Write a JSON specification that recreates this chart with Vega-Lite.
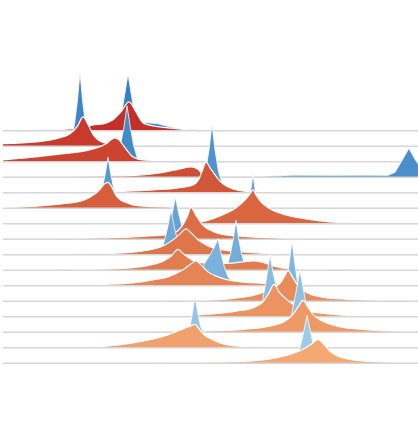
{
"$schema": "https://vega.github.io/schema/vega-lite/v6.json",
"autosize": {"type": "pad"},
"padding": {"left": 0, "top": 69.4, "right": 0, "bottom": 0},
"background": "white",
"bounds": "flush",
"spacing": 0,
"data": {"values": [
{"p":1,"row":1,"g":"r","x":0,"d":0.5},{"p":1,"row":1,"g":"r","x":30,"d":0.8},{"p":1,"row":1,"g":"r","x":60,"d":1.5},{"p":1,"row":1,"g":"r","x":80,"d":3},{"p":1,"row":1,"g":"r","x":90,"d":6},{"p":1,"row":1,"g":"r","x":100,"d":7},{"p":1,"row":1,"g":"r","x":110,"d":11},{"p":1,"row":1,"g":"r","x":118,"d":19},{"p":1,"row":1,"g":"r","x":126,"d":29},{"p":1,"row":1,"g":"r","x":133,"d":19},{"p":1,"row":1,"g":"r","x":140,"d":8},{"p":1,"row":1,"g":"r","x":150,"d":5},{"p":1,"row":1,"g":"r","x":165,"d":3},{"p":1,"row":1,"g":"r","x":180,"d":1.5},{"p":1,"row":1,"g":"r","x":200,"d":0.5},{"p":1,"row":1,"g":"r","x":230,"d":0},
{"p":1,"row":1,"g":"b","x":112,"d":0},{"p":1,"row":1,"g":"b","x":115,"d":2},{"p":1,"row":1,"g":"b","x":118.5,"d":17},{"p":1,"row":1,"g":"b","x":121.5,"d":35},{"p":1,"row":1,"g":"b","x":125,"d":57},{"p":1,"row":1,"g":"b","x":128.5,"d":35},{"p":1,"row":1,"g":"b","x":131,"d":20},{"p":1,"row":1,"g":"b","x":134,"d":11},{"p":1,"row":1,"g":"b","x":140,"d":8.5},{"p":1,"row":1,"g":"b","x":155,"d":7},{"p":1,"row":1,"g":"b","x":167,"d":4},{"p":1,"row":1,"g":"b","x":180,"d":1},{"p":1,"row":1,"g":"b","x":200,"d":0},
{"p":1,"row":2,"g":"r","x":0,"d":2.8},{"p":1,"row":2,"g":"r","x":33,"d":4.5},{"p":1,"row":2,"g":"r","x":50,"d":7},{"p":1,"row":2,"g":"r","x":67,"d":12.5},{"p":1,"row":2,"g":"r","x":75,"d":21},{"p":1,"row":2,"g":"r","x":80,"d":29.5},{"p":1,"row":2,"g":"r","x":85,"d":22},{"p":1,"row":2,"g":"r","x":90,"d":12},{"p":1,"row":2,"g":"r","x":100,"d":4},{"p":1,"row":2,"g":"r","x":110,"d":2},{"p":1,"row":2,"g":"r","x":140,"d":0.8},{"p":1,"row":2,"g":"r","x":180,"d":0.4},{"p":1,"row":2,"g":"r","x":210,"d":0},
{"p":1,"row":2,"g":"b","x":64,"d":0},{"p":1,"row":2,"g":"b","x":67.5,"d":3},{"p":1,"row":2,"g":"b","x":71.5,"d":22},{"p":1,"row":2,"g":"b","x":74.5,"d":46},{"p":1,"row":2,"g":"b","x":77,"d":74.5},{"p":1,"row":2,"g":"b","x":79.5,"d":46},{"p":1,"row":2,"g":"b","x":82.5,"d":22},{"p":1,"row":2,"g":"b","x":86.5,"d":3},{"p":1,"row":2,"g":"b","x":90,"d":0},
{"p":2,"row":3,"g":"r","x":0,"d":2},{"p":2,"row":3,"g":"r","x":50,"d":7},{"p":2,"row":3,"g":"r","x":90,"d":13},{"p":2,"row":3,"g":"r","x":103,"d":18},{"p":2,"row":3,"g":"r","x":108,"d":22},{"p":2,"row":3,"g":"r","x":112,"d":24},{"p":2,"row":3,"g":"r","x":116,"d":22},{"p":2,"row":3,"g":"r","x":120,"d":17},{"p":2,"row":3,"g":"r","x":130,"d":5},{"p":2,"row":3,"g":"r","x":140,"d":2},{"p":2,"row":3,"g":"r","x":160,"d":1.2},{"p":2,"row":3,"g":"r","x":190,"d":0.6},{"p":2,"row":3,"g":"r","x":220,"d":0},
{"p":2,"row":3,"g":"b","x":110,"d":0},{"p":2,"row":3,"g":"b","x":113,"d":2},{"p":2,"row":3,"g":"b","x":117.5,"d":17},{"p":2,"row":3,"g":"b","x":121,"d":35},{"p":2,"row":3,"g":"b","x":124,"d":56},{"p":2,"row":3,"g":"b","x":127.3,"d":35},{"p":2,"row":3,"g":"b","x":130.5,"d":17},{"p":2,"row":3,"g":"b","x":134.5,"d":3},{"p":2,"row":3,"g":"b","x":139,"d":0},
{"p":2,"row":4,"g":"r","x":0,"d":1},{"p":2,"row":4,"g":"r","x":60,"d":1},{"p":2,"row":4,"g":"r","x":120,"d":1.5},{"p":2,"row":4,"g":"r","x":145,"d":3},{"p":2,"row":4,"g":"r","x":160,"d":5},{"p":2,"row":4,"g":"r","x":175,"d":8},{"p":2,"row":4,"g":"r","x":188,"d":10.5},{"p":2,"row":4,"g":"r","x":195,"d":8},{"p":2,"row":4,"g":"r","x":200,"d":3},{"p":2,"row":4,"g":"r","x":210,"d":1},{"p":2,"row":4,"g":"r","x":240,"d":0.5},{"p":2,"row":4,"g":"r","x":280,"d":0},
{"p":2,"row":4,"g":"b","x":220,"d":0},{"p":2,"row":4,"g":"b","x":260,"d":1},{"p":2,"row":4,"g":"b","x":290,"d":2.2},{"p":2,"row":4,"g":"b","x":330,"d":2},{"p":2,"row":4,"g":"b","x":360,"d":2.2},{"p":2,"row":4,"g":"b","x":385,"d":2},{"p":2,"row":4,"g":"b","x":392,"d":5},{"p":2,"row":4,"g":"b","x":398,"d":15},{"p":2,"row":4,"g":"b","x":406,"d":29},{"p":2,"row":4,"g":"b","x":412,"d":18},{"p":2,"row":4,"g":"b","x":418,"d":9},
{"p":3,"row":5,"g":"r","x":80,"d":0},{"p":3,"row":5,"g":"r","x":100,"d":0.5},{"p":3,"row":5,"g":"r","x":120,"d":1.5},{"p":3,"row":5,"g":"r","x":150,"d":3},{"p":3,"row":5,"g":"r","x":175,"d":5},{"p":3,"row":5,"g":"r","x":190,"d":8},{"p":3,"row":5,"g":"r","x":196,"d":14},{"p":3,"row":5,"g":"r","x":200,"d":24},{"p":3,"row":5,"g":"r","x":203,"d":31},{"p":3,"row":5,"g":"r","x":207,"d":25},{"p":3,"row":5,"g":"r","x":210,"d":21},{"p":3,"row":5,"g":"r","x":215,"d":14},{"p":3,"row":5,"g":"r","x":220,"d":9},{"p":3,"row":5,"g":"r","x":230,"d":4},{"p":3,"row":5,"g":"r","x":243,"d":1.5},{"p":3,"row":5,"g":"r","x":270,"d":0.5},{"p":3,"row":5,"g":"r","x":300,"d":0},
{"p":3,"row":5,"g":"b","x":194,"d":0},{"p":3,"row":5,"g":"b","x":198,"d":2},{"p":3,"row":5,"g":"b","x":202.5,"d":21},{"p":3,"row":5,"g":"b","x":206,"d":43},{"p":3,"row":5,"g":"b","x":209,"d":69},{"p":3,"row":5,"g":"b","x":212,"d":43},{"p":3,"row":5,"g":"b","x":215.5,"d":21},{"p":3,"row":5,"g":"b","x":219,"d":10},{"p":3,"row":5,"g":"b","x":223,"d":6},{"p":3,"row":5,"g":"b","x":228,"d":2},{"p":3,"row":5,"g":"b","x":240,"d":0},
{"p":3,"row":6,"g":"r","x":0,"d":0.7},{"p":3,"row":6,"g":"r","x":30,"d":2},{"p":3,"row":6,"g":"r","x":60,"d":4.7},{"p":3,"row":6,"g":"r","x":80,"d":8},{"p":3,"row":6,"g":"r","x":90,"d":13},{"p":3,"row":6,"g":"r","x":97,"d":19},{"p":3,"row":6,"g":"r","x":101,"d":24},{"p":3,"row":6,"g":"r","x":105,"d":26},{"p":3,"row":6,"g":"r","x":109,"d":21},{"p":3,"row":6,"g":"r","x":113,"d":13},{"p":3,"row":6,"g":"r","x":118,"d":8},{"p":3,"row":6,"g":"r","x":123,"d":6},{"p":3,"row":6,"g":"r","x":130,"d":3.4},{"p":3,"row":6,"g":"r","x":145,"d":2},{"p":3,"row":6,"g":"r","x":167,"d":1.2},{"p":3,"row":6,"g":"r","x":200,"d":0.5},{"p":3,"row":6,"g":"r","x":240,"d":0},
{"p":3,"row":6,"g":"b","x":90,"d":0},{"p":3,"row":6,"g":"b","x":94,"d":2},{"p":3,"row":6,"g":"b","x":98.5,"d":16},{"p":3,"row":6,"g":"b","x":101.8,"d":32},{"p":3,"row":6,"g":"b","x":105,"d":51},{"p":3,"row":6,"g":"b","x":108.2,"d":32},{"p":3,"row":6,"g":"b","x":111.5,"d":16},{"p":3,"row":6,"g":"b","x":116,"d":4},{"p":3,"row":6,"g":"b","x":121,"d":1.5},{"p":3,"row":6,"g":"b","x":130,"d":0},
{"p":4,"row":7,"g":"r","x":140,"d":0},{"p":4,"row":7,"g":"r","x":160,"d":0.7},{"p":4,"row":7,"g":"r","x":180,"d":1.2},{"p":4,"row":7,"g":"r","x":200,"d":2.5},{"p":4,"row":7,"g":"r","x":217,"d":8},{"p":4,"row":7,"g":"r","x":233,"d":16},{"p":4,"row":7,"g":"r","x":242,"d":24},{"p":4,"row":7,"g":"r","x":247,"d":30},{"p":4,"row":7,"g":"r","x":250,"d":34},{"p":4,"row":7,"g":"r","x":253,"d":29},{"p":4,"row":7,"g":"r","x":258,"d":22},{"p":4,"row":7,"g":"r","x":267,"d":15},{"p":4,"row":7,"g":"r","x":283,"d":9},{"p":4,"row":7,"g":"r","x":300,"d":5.5},{"p":4,"row":7,"g":"r","x":327,"d":2},{"p":4,"row":7,"g":"r","x":350,"d":0.7},{"p":4,"row":7,"g":"r","x":380,"d":0},
{"p":4,"row":7,"g":"b","x":238,"d":0},{"p":4,"row":7,"g":"b","x":241.5,"d":2},{"p":4,"row":7,"g":"b","x":244.8,"d":15},{"p":4,"row":7,"g":"b","x":247.5,"d":31},{"p":4,"row":7,"g":"b","x":250,"d":50},{"p":4,"row":7,"g":"b","x":252.5,"d":31},{"p":4,"row":7,"g":"b","x":255.2,"d":15},{"p":4,"row":7,"g":"b","x":259,"d":4},{"p":4,"row":7,"g":"b","x":263,"d":1.5},{"p":4,"row":7,"g":"b","x":270,"d":0},
{"p":4,"row":8,"g":"r","x":40,"d":0},{"p":4,"row":8,"g":"r","x":60,"d":0.5},{"p":4,"row":8,"g":"r","x":100,"d":1.5},{"p":4,"row":8,"g":"r","x":140,"d":3},{"p":4,"row":8,"g":"r","x":167,"d":5},{"p":4,"row":8,"g":"r","x":178,"d":12},{"p":4,"row":8,"g":"r","x":184,"d":22},{"p":4,"row":8,"g":"r","x":188,"d":32},{"p":4,"row":8,"g":"r","x":193,"d":24},{"p":4,"row":8,"g":"r","x":200,"d":14},{"p":4,"row":8,"g":"r","x":210,"d":8},{"p":4,"row":8,"g":"r","x":220,"d":5},{"p":4,"row":8,"g":"r","x":240,"d":3},{"p":4,"row":8,"g":"r","x":270,"d":1.5},{"p":4,"row":8,"g":"r","x":310,"d":0.5},{"p":4,"row":8,"g":"r","x":340,"d":0},
{"p":4,"row":8,"g":"b","x":159,"d":0},{"p":4,"row":8,"g":"b","x":162.5,"d":2},{"p":4,"row":8,"g":"b","x":166.3,"d":14},{"p":4,"row":8,"g":"b","x":169.3,"d":26},{"p":4,"row":8,"g":"b","x":172.5,"d":42},{"p":4,"row":8,"g":"b","x":175.7,"d":26},{"p":4,"row":8,"g":"b","x":178.7,"d":14},{"p":4,"row":8,"g":"b","x":183,"d":4},{"p":4,"row":8,"g":"b","x":188,"d":1},{"p":4,"row":8,"g":"b","x":200,"d":0},
{"p":5,"row":9,"g":"r","x":50,"d":0},{"p":5,"row":9,"g":"r","x":60,"d":0.5},{"p":5,"row":9,"g":"r","x":110,"d":1.5},{"p":5,"row":9,"g":"r","x":140,"d":4},{"p":5,"row":9,"g":"r","x":160,"d":9},{"p":5,"row":9,"g":"r","x":170,"d":15},{"p":5,"row":9,"g":"r","x":177,"d":21},{"p":5,"row":9,"g":"r","x":183,"d":26},{"p":5,"row":9,"g":"r","x":188,"d":22},{"p":5,"row":9,"g":"r","x":195,"d":15},{"p":5,"row":9,"g":"r","x":205,"d":9},{"p":5,"row":9,"g":"r","x":220,"d":5},{"p":5,"row":9,"g":"r","x":245,"d":2.5},{"p":5,"row":9,"g":"r","x":280,"d":1},{"p":5,"row":9,"g":"r","x":320,"d":0.3},{"p":5,"row":9,"g":"r","x":360,"d":0},
{"p":5,"row":9,"g":"b","x":154,"d":0},{"p":5,"row":9,"g":"b","x":157.5,"d":2},{"p":5,"row":9,"g":"b","x":161.6,"d":15},{"p":5,"row":9,"g":"b","x":164.8,"d":28},{"p":5,"row":9,"g":"b","x":168,"d":45},{"p":5,"row":9,"g":"b","x":171.2,"d":28},{"p":5,"row":9,"g":"b","x":174.4,"d":15},{"p":5,"row":9,"g":"b","x":178.5,"d":3},{"p":5,"row":9,"g":"b","x":183,"d":0},
{"p":5,"row":10,"g":"r","x":50,"d":0},{"p":5,"row":10,"g":"r","x":60,"d":0.5},{"p":5,"row":10,"g":"r","x":110,"d":1.5},{"p":5,"row":10,"g":"r","x":140,"d":4},{"p":5,"row":10,"g":"r","x":160,"d":9},{"p":5,"row":10,"g":"r","x":168,"d":14},{"p":5,"row":10,"g":"r","x":175,"d":21},{"p":5,"row":10,"g":"r","x":181,"d":16},{"p":5,"row":10,"g":"r","x":190,"d":10},{"p":5,"row":10,"g":"r","x":205,"d":7},{"p":5,"row":10,"g":"r","x":225,"d":7},{"p":5,"row":10,"g":"r","x":240,"d":8.5},{"p":5,"row":10,"g":"r","x":250,"d":9.5},{"p":5,"row":10,"g":"r","x":260,"d":8},{"p":5,"row":10,"g":"r","x":272,"d":4},{"p":5,"row":10,"g":"r","x":290,"d":1.5},{"p":5,"row":10,"g":"r","x":330,"d":0.5},{"p":5,"row":10,"g":"r","x":370,"d":0},
{"p":5,"row":10,"g":"b","x":220,"d":0},{"p":5,"row":10,"g":"b","x":223.5,"d":2},{"p":5,"row":10,"g":"b","x":227.3,"d":16},{"p":5,"row":10,"g":"b","x":230.2,"d":31},{"p":5,"row":10,"g":"b","x":233,"d":50},{"p":5,"row":10,"g":"b","x":235.8,"d":31},{"p":5,"row":10,"g":"b","x":238.7,"d":16},{"p":5,"row":10,"g":"b","x":242.5,"d":4},{"p":5,"row":10,"g":"b","x":248,"d":1},{"p":5,"row":10,"g":"b","x":260,"d":0},
{"p":6,"row":11,"g":"r","x":50,"d":0.5},{"p":6,"row":11,"g":"r","x":100,"d":1.5},{"p":6,"row":11,"g":"r","x":130,"d":3},{"p":6,"row":11,"g":"r","x":150,"d":6},{"p":6,"row":11,"g":"r","x":165,"d":9},{"p":6,"row":11,"g":"r","x":180,"d":16},{"p":6,"row":11,"g":"r","x":188,"d":22},{"p":6,"row":11,"g":"r","x":193,"d":25},{"p":6,"row":11,"g":"r","x":198,"d":21},{"p":6,"row":11,"g":"r","x":205,"d":14},{"p":6,"row":11,"g":"r","x":215,"d":9},{"p":6,"row":11,"g":"r","x":230,"d":5},{"p":6,"row":11,"g":"r","x":260,"d":2.5},{"p":6,"row":11,"g":"r","x":300,"d":1},{"p":6,"row":11,"g":"r","x":340,"d":0.3},{"p":6,"row":11,"g":"r","x":380,"d":0},
{"p":6,"row":11,"g":"b","x":188,"d":0},{"p":6,"row":11,"g":"b","x":193,"d":3},{"p":6,"row":11,"g":"b","x":200,"d":20},{"p":6,"row":11,"g":"b","x":207,"d":31},{"p":6,"row":11,"g":"b","x":211,"d":38},{"p":6,"row":11,"g":"b","x":215,"d":47},{"p":6,"row":11,"g":"b","x":218,"d":33},{"p":6,"row":11,"g":"b","x":221,"d":20},{"p":6,"row":11,"g":"b","x":225,"d":9},{"p":6,"row":11,"g":"b","x":230,"d":3},{"p":6,"row":11,"g":"b","x":240,"d":1},{"p":6,"row":11,"g":"b","x":255,"d":0},
{"p":6,"row":12,"g":"r","x":150,"d":0.3},{"p":6,"row":12,"g":"r","x":200,"d":1},{"p":6,"row":12,"g":"r","x":230,"d":3},{"p":6,"row":12,"g":"r","x":250,"d":6},{"p":6,"row":12,"g":"r","x":265,"d":11},{"p":6,"row":12,"g":"r","x":277,"d":18},{"p":6,"row":12,"g":"r","x":282,"d":26},{"p":6,"row":12,"g":"r","x":285,"d":31},{"p":6,"row":12,"g":"r","x":289,"d":25},{"p":6,"row":12,"g":"r","x":297,"d":13},{"p":6,"row":12,"g":"r","x":305,"d":8},{"p":6,"row":12,"g":"r","x":320,"d":4},{"p":6,"row":12,"g":"r","x":345,"d":2},{"p":6,"row":12,"g":"r","x":380,"d":0.8},{"p":6,"row":12,"g":"r","x":418,"d":0.3},
{"p":6,"row":12,"g":"b","x":277,"d":0},{"p":6,"row":12,"g":"b","x":280.5,"d":2},{"p":6,"row":12,"g":"b","x":283.5,"d":19},{"p":6,"row":12,"g":"b","x":286.2,"d":38},{"p":6,"row":12,"g":"b","x":289,"d":61},{"p":6,"row":12,"g":"b","x":291.8,"d":38},{"p":6,"row":12,"g":"b","x":294.5,"d":19},{"p":6,"row":12,"g":"b","x":298.5,"d":4},{"p":6,"row":12,"g":"b","x":305,"d":1},{"p":6,"row":12,"g":"b","x":315,"d":0},
{"p":7,"row":13,"g":"r","x":120,"d":0.3},{"p":7,"row":13,"g":"r","x":180,"d":1.2},{"p":7,"row":13,"g":"r","x":210,"d":3},{"p":7,"row":13,"g":"r","x":235,"d":6},{"p":7,"row":13,"g":"r","x":250,"d":9},{"p":7,"row":13,"g":"r","x":260,"d":15},{"p":7,"row":13,"g":"r","x":266,"d":24},{"p":7,"row":13,"g":"r","x":271,"d":32.5},{"p":7,"row":13,"g":"r","x":276,"d":25},{"p":7,"row":13,"g":"r","x":283,"d":18},{"p":7,"row":13,"g":"r","x":292,"d":11},{"p":7,"row":13,"g":"r","x":305,"d":6},{"p":7,"row":13,"g":"r","x":325,"d":3},{"p":7,"row":13,"g":"r","x":355,"d":1.2},{"p":7,"row":13,"g":"r","x":400,"d":0.4},{"p":7,"row":13,"g":"r","x":418,"d":0.2},
{"p":7,"row":13,"g":"b","x":252,"d":0},{"p":7,"row":13,"g":"b","x":256,"d":4},{"p":7,"row":13,"g":"b","x":259.7,"d":17},{"p":7,"row":13,"g":"b","x":263.4,"d":38},{"p":7,"row":13,"g":"b","x":267,"d":62},{"p":7,"row":13,"g":"b","x":270,"d":45},{"p":7,"row":13,"g":"b","x":272.8,"d":32},{"p":7,"row":13,"g":"b","x":276,"d":15},{"p":7,"row":13,"g":"b","x":280,"d":4},{"p":7,"row":13,"g":"b","x":288,"d":0},
{"p":7,"row":14,"g":"r","x":140,"d":0.3},{"p":7,"row":14,"g":"r","x":200,"d":1.2},{"p":7,"row":14,"g":"r","x":240,"d":3},{"p":7,"row":14,"g":"r","x":265,"d":6},{"p":7,"row":14,"g":"r","x":280,"d":10},{"p":7,"row":14,"g":"r","x":290,"d":18},{"p":7,"row":14,"g":"r","x":296,"d":27},{"p":7,"row":14,"g":"r","x":300,"d":32},{"p":7,"row":14,"g":"r","x":305,"d":25},{"p":7,"row":14,"g":"r","x":310,"d":18},{"p":7,"row":14,"g":"r","x":320,"d":11},{"p":7,"row":14,"g":"r","x":335,"d":6},{"p":7,"row":14,"g":"r","x":360,"d":3},{"p":7,"row":14,"g":"r","x":390,"d":1.2},{"p":7,"row":14,"g":"r","x":418,"d":0.5},
{"p":7,"row":14,"g":"b","x":282,"d":0},{"p":7,"row":14,"g":"b","x":285.5,"d":5},{"p":7,"row":14,"g":"b","x":289,"d":20},{"p":7,"row":14,"g":"b","x":293,"d":40},{"p":7,"row":14,"g":"b","x":297,"d":63},{"p":7,"row":14,"g":"b","x":300,"d":45},{"p":7,"row":14,"g":"b","x":302.8,"d":30},{"p":7,"row":14,"g":"b","x":306,"d":14},{"p":7,"row":14,"g":"b","x":310,"d":4},{"p":7,"row":14,"g":"b","x":318,"d":0},
{"p":8,"row":15,"g":"r","x":60,"d":0},{"p":8,"row":15,"g":"r","x":70,"d":0.3},{"p":8,"row":15,"g":"r","x":100,"d":1.5},{"p":8,"row":15,"g":"r","x":130,"d":5},{"p":8,"row":15,"g":"r","x":150,"d":9},{"p":8,"row":15,"g":"r","x":165,"d":13},{"p":8,"row":15,"g":"r","x":180,"d":19},{"p":8,"row":15,"g":"r","x":188,"d":22},{"p":8,"row":15,"g":"r","x":192,"d":23.6},{"p":8,"row":15,"g":"r","x":196,"d":19},{"p":8,"row":15,"g":"r","x":200,"d":14},{"p":8,"row":15,"g":"r","x":210,"d":8},{"p":8,"row":15,"g":"r","x":225,"d":3},{"p":8,"row":15,"g":"r","x":250,"d":1},{"p":8,"row":15,"g":"r","x":290,"d":0.3},{"p":8,"row":15,"g":"r","x":320,"d":0},
{"p":8,"row":15,"g":"b","x":179,"d":0},{"p":8,"row":15,"g":"b","x":183,"d":3},{"p":8,"row":15,"g":"b","x":186.5,"d":18},{"p":8,"row":15,"g":"b","x":189.3,"d":34},{"p":8,"row":15,"g":"b","x":192,"d":52},{"p":8,"row":15,"g":"b","x":194.8,"d":35},{"p":8,"row":15,"g":"b","x":197.5,"d":22},{"p":8,"row":15,"g":"b","x":201,"d":14},{"p":8,"row":15,"g":"b","x":207,"d":8},{"p":8,"row":15,"g":"b","x":220,"d":4},{"p":8,"row":15,"g":"b","x":235,"d":1},{"p":8,"row":15,"g":"b","x":250,"d":0},
{"p":8,"row":16,"g":"r","x":130,"d":0},{"p":8,"row":16,"g":"r","x":160,"d":0.5},{"p":8,"row":16,"g":"r","x":200,"d":1},{"p":8,"row":16,"g":"r","x":240,"d":2},{"p":8,"row":16,"g":"r","x":270,"d":5},{"p":8,"row":16,"g":"r","x":290,"d":10},{"p":8,"row":16,"g":"r","x":300,"d":14},{"p":8,"row":16,"g":"r","x":308,"d":19},{"p":8,"row":16,"g":"r","x":315,"d":24},{"p":8,"row":16,"g":"r","x":320,"d":20},{"p":8,"row":16,"g":"r","x":327,"d":12},{"p":8,"row":16,"g":"r","x":335,"d":7},{"p":8,"row":16,"g":"r","x":350,"d":3.5},{"p":8,"row":16,"g":"r","x":375,"d":1.5},{"p":8,"row":16,"g":"r","x":418,"d":0.4},
{"p":8,"row":16,"g":"b","x":289,"d":0},{"p":8,"row":16,"g":"b","x":293,"d":3},{"p":8,"row":16,"g":"b","x":296.8,"d":15},{"p":8,"row":16,"g":"b","x":300.4,"d":30},{"p":8,"row":16,"g":"b","x":304,"d":48},{"p":8,"row":16,"g":"b","x":307,"d":34},{"p":8,"row":16,"g":"b","x":310,"d":20},{"p":8,"row":16,"g":"b","x":314,"d":6},{"p":8,"row":16,"g":"b","x":320,"d":1},{"p":8,"row":16,"g":"b","x":330,"d":0}
]},
"facet": {"row": {"field": "p", "type": "ordinal", "header": null, "title": null}},
"spec": {
  "width": 418,
  "height": 30.94,
  "layer": [
    {"transform": [{"filter": "datum.row % 2 == 1 && datum.g == 'b'"}],
     "mark": {"type": "area", "interpolate": "linear"},
     "encoding": {
       "x": {"field": "x", "type": "quantitative", "scale": {"domain": [0, 418], "nice": false, "zero": false}, "axis": null},
       "y": {"field": "d", "type": "quantitative", "scale": {"domain": [0, 100], "range": [15.47, -84.53]}, "axis": null},
       "color": {"field": "row", "type": "quantitative", "scale": {"domain": [1, 16], "range": ["#3480c3", "#9dcbea"]}, "legend": null}
     }},
    {"transform": [{"filter": "datum.row % 2 == 1 && datum.g == 'b'"}],
     "mark": {"type": "line", "interpolate": "linear", "color": "white", "strokeWidth": 0.8},
     "encoding": {
       "x": {"field": "x", "type": "quantitative"},
       "y": {"field": "d", "type": "quantitative", "scale": {"domain": [0, 100], "range": [15.47, -84.53]}, "axis": null}
     }},
    {"transform": [{"filter": "datum.row % 2 == 1 && datum.g == 'r'"}],
     "mark": {"type": "area", "interpolate": "monotone"},
     "encoding": {
       "x": {"field": "x", "type": "quantitative"},
       "y": {"field": "d", "type": "quantitative", "scale": {"domain": [0, 100], "range": [15.47, -84.53]}, "axis": null},
       "color": {"field": "row", "type": "quantitative", "scale": {"domain": [1, 16], "range": ["#c52f29", "#f4a874"]}, "legend": null}
     }},
    {"transform": [{"filter": "datum.row % 2 == 1 && datum.g == 'r'"}],
     "mark": {"type": "line", "interpolate": "monotone", "color": "white", "strokeWidth": 1.2},
     "encoding": {
       "x": {"field": "x", "type": "quantitative"},
       "y": {"field": "d", "type": "quantitative", "scale": {"domain": [0, 100], "range": [15.47, -84.53]}, "axis": null}
     }},
    {"transform": [{"filter": "datum.row % 2 == 1"}, {"aggregate": [{"op": "count", "as": "n"}], "groupby": ["p", "row"]}],
     "mark": {"type": "rule", "color": "#d6d6d6", "strokeWidth": 1.5},
     "encoding": {"y": {"datum": 0, "type": "quantitative", "scale": {"domain": [0, 100], "range": [15.47, -84.53]}, "axis": null}}},
    {"transform": [{"filter": "datum.row % 2 == 0 && datum.g == 'b'"}],
     "mark": {"type": "area", "interpolate": "linear"},
     "encoding": {
       "x": {"field": "x", "type": "quantitative"},
       "y": {"field": "d", "type": "quantitative", "scale": {"domain": [0, 100], "range": [30.94, -69.06]}, "axis": null},
       "color": {"field": "row", "type": "quantitative", "scale": {"domain": [1, 16], "range": ["#3480c3", "#9dcbea"]}, "legend": null}
     }},
    {"transform": [{"filter": "datum.row % 2 == 0 && datum.g == 'b'"}],
     "mark": {"type": "line", "interpolate": "linear", "color": "white", "strokeWidth": 0.8},
     "encoding": {
       "x": {"field": "x", "type": "quantitative"},
       "y": {"field": "d", "type": "quantitative", "scale": {"domain": [0, 100], "range": [30.94, -69.06]}, "axis": null}
     }},
    {"transform": [{"filter": "datum.row % 2 == 0 && datum.g == 'r'"}],
     "mark": {"type": "area", "interpolate": "monotone"},
     "encoding": {
       "x": {"field": "x", "type": "quantitative"},
       "y": {"field": "d", "type": "quantitative", "scale": {"domain": [0, 100], "range": [30.94, -69.06]}, "axis": null},
       "color": {"field": "row", "type": "quantitative", "scale": {"domain": [1, 16], "range": ["#c52f29", "#f4a874"]}, "legend": null}
     }},
    {"transform": [{"filter": "datum.row % 2 == 0 && datum.g == 'r'"}],
     "mark": {"type": "line", "interpolate": "monotone", "color": "white", "strokeWidth": 1.2},
     "encoding": {
       "x": {"field": "x", "type": "quantitative"},
       "y": {"field": "d", "type": "quantitative", "scale": {"domain": [0, 100], "range": [30.94, -69.06]}, "axis": null}
     }},
    {"transform": [{"filter": "datum.row % 2 == 0"}, {"aggregate": [{"op": "count", "as": "n"}], "groupby": ["p", "row"]}],
     "mark": {"type": "rule", "color": "#d6d6d6", "strokeWidth": 1.5},
     "encoding": {"y": {"datum": 0, "type": "quantitative", "scale": {"domain": [0, 100], "range": [30.94, -69.06]}, "axis": null}}}
  ],
  "resolve": {"scale": {"color": "independent", "y": "independent"}}
},
"config": {"view": {"stroke": null}}
}
